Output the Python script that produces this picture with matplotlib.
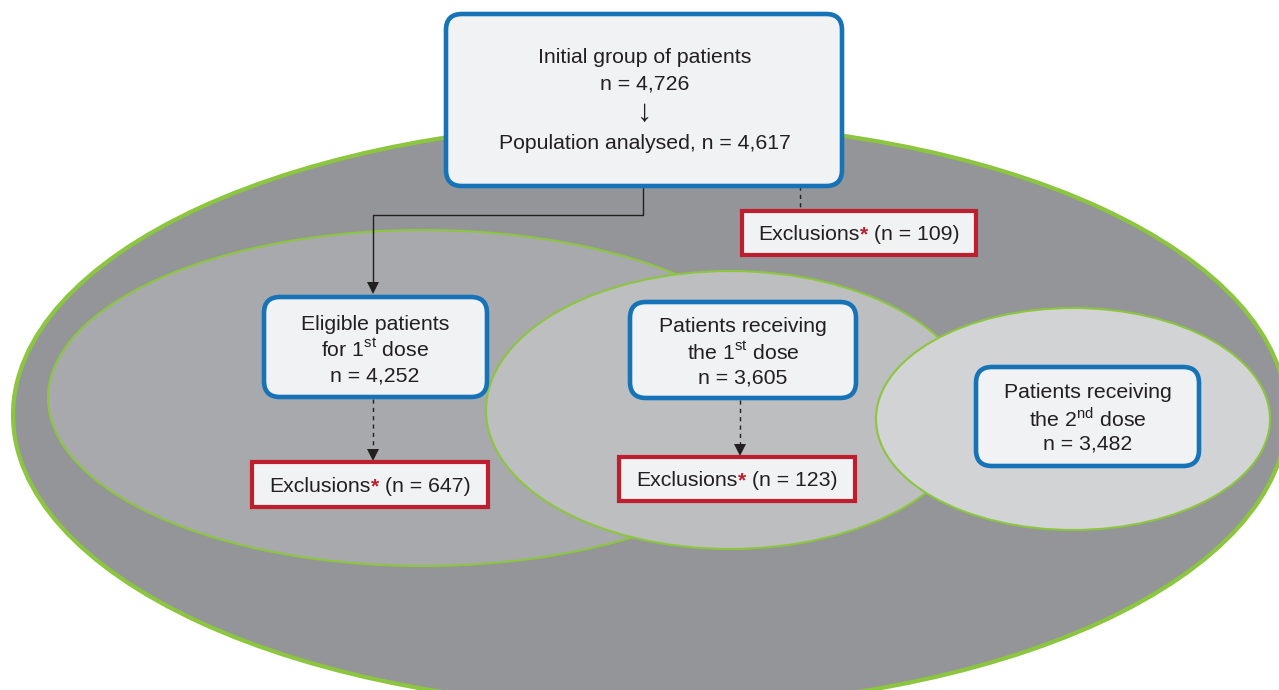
import matplotlib.pyplot as plt
from matplotlib.patches import Ellipse, FancyBboxPatch, Rectangle
from matplotlib.offsetbox import TextArea, HPacker, AnnotationBbox

plt.rcParams['font.family'] = ['Liberation Sans', 'DejaVu Sans']
plt.rcParams['mathtext.fontset'] = 'custom'
plt.rcParams['mathtext.rm'] = 'Liberation Sans'

# ==========================
# Data
# ==========================
n_initial = "4,726"
n_analysed = "4,617"
n_eligible = "4,252"
n_dose1 = "3,605"
n_dose2 = "3,482"
excl_values = ["109", "647", "123"]

# ==========================
# Style
# ==========================
txt_col = "#231f20"
blue = "#1673b8"
red = "#be1e2d"
green = "#8cc63f"
box_fill = "#f1f2f4"
fs = 15.3

fig = plt.figure(figsize=(12.79, 6.90), dpi=100)
ax = fig.add_axes([0, 0, 1, 1])
ax.set_xlim(0, 1279)
ax.set_ylim(690, 0)
ax.axis("off")

# ellipses (center x, center y, half width, half height, fill, edge width)
ellipses = [
    (650, 415, 637, 293, "#939598", 3.0),
    (423, 398, 375, 168, "#a7a9ac", 1.5),
    (730, 410, 244, 139, "#bcbec0", 1.5),
    (1073, 419, 197, 111, "#d1d3d4", 1.5),
]
for cx, cy, a, b, fc, lw in ellipses:
    ax.add_patch(Ellipse((cx, cy), 2 * a, 2 * b, facecolor=fc,
                         edgecolor=green, lw=lw, zorder=1))


def rbox(x0, y0, x1, y1):
    ax.add_patch(FancyBboxPatch((x0, y0), x1 - x0, y1 - y0,
                                boxstyle="round,pad=0,rounding_size=16",
                                facecolor=box_fill, edgecolor=blue,
                                lw=3.3, zorder=3))


def lines(cx, ys, texts, sizes=None):
    for i, (y, t) in enumerate(zip(ys, texts)):
        size = fs if sizes is None else sizes[i]
        ax.text(cx, y + 2.5, t, ha="center", va="center", fontsize=size,
                color=txt_col, zorder=4)


def excl_box(x0, y0, x1, y1, val):
    ax.add_patch(Rectangle((x0, y0), x1 - x0, y1 - y0, facecolor=box_fill,
                           edgecolor=red, lw=3.0, zorder=3))
    parts = [TextArea("Exclusions", textprops=dict(fontsize=fs, color=txt_col)),
             TextArea("*", textprops=dict(fontsize=fs, color=red, fontweight="bold")),
             TextArea(" (n = " + val + ")", textprops=dict(fontsize=fs, color=txt_col))]
    pack = HPacker(children=parts, align="baseline", pad=0, sep=0)
    ab = AnnotationBbox(pack, ((x0 + x1) / 2, (y0 + y1) / 2 + 2), frameon=False,
                        box_alignment=(0.5, 0.5), zorder=5)
    ax.add_artist(ab)


def dashed_arrow(x, y0, y1):
    ax.plot([x, x], [y0, y1 - 6], ls=(0, (3, 3)), color=txt_col, lw=1.0, zorder=2)
    ax.plot(x, y1 - 5, marker="v", ms=8, color=txt_col, mew=0, zorder=2)


# top box
rbox(446, 14, 842, 186)
lines(645, [55, 82, 111, 141],
      ["Initial group of patients", "n = " + n_initial, "\u2193",
       "Population analysed, n = " + n_analysed],
      sizes=[fs, fs, 22, fs])

# connectors from top box
ax.plot([643, 643, 373, 373], [186, 215, 215, 286], color=txt_col, lw=1.0, zorder=2)
ax.plot(373, 288, marker="v", ms=9, color=txt_col, mew=0, zorder=2)
ax.plot([800, 800], [186, 210], ls=(0, (3, 3)), color=txt_col, lw=1.0, zorder=2)
excl_box(742, 211, 976, 255, excl_values[0])

# eligible patients
rbox(264, 297, 487, 397)
lines(375, [322, 347, 373],
      ["Eligible patients", r"for 1$^{\mathrm{st}}$ dose", "n = " + n_eligible])
dashed_arrow(373, 399, 460)
excl_box(252, 462, 488, 507, excl_values[1])

# 1st dose
rbox(630, 302, 856, 398)
lines(743, [324, 350, 376],
      ["Patients receiving", r"the 1$^{\mathrm{st}}$ dose", "n = " + n_dose1])
dashed_arrow(740, 400, 455)
excl_box(619, 457, 855, 501, excl_values[2])

# 2nd dose
rbox(976, 367, 1199, 466)
lines(1088, [390, 416, 442],
      ["Patients receiving", r"the 2$^{\mathrm{nd}}$ dose", "n = " + n_dose2])

plt.savefig("out.png", dpi=100)
plt.close()
